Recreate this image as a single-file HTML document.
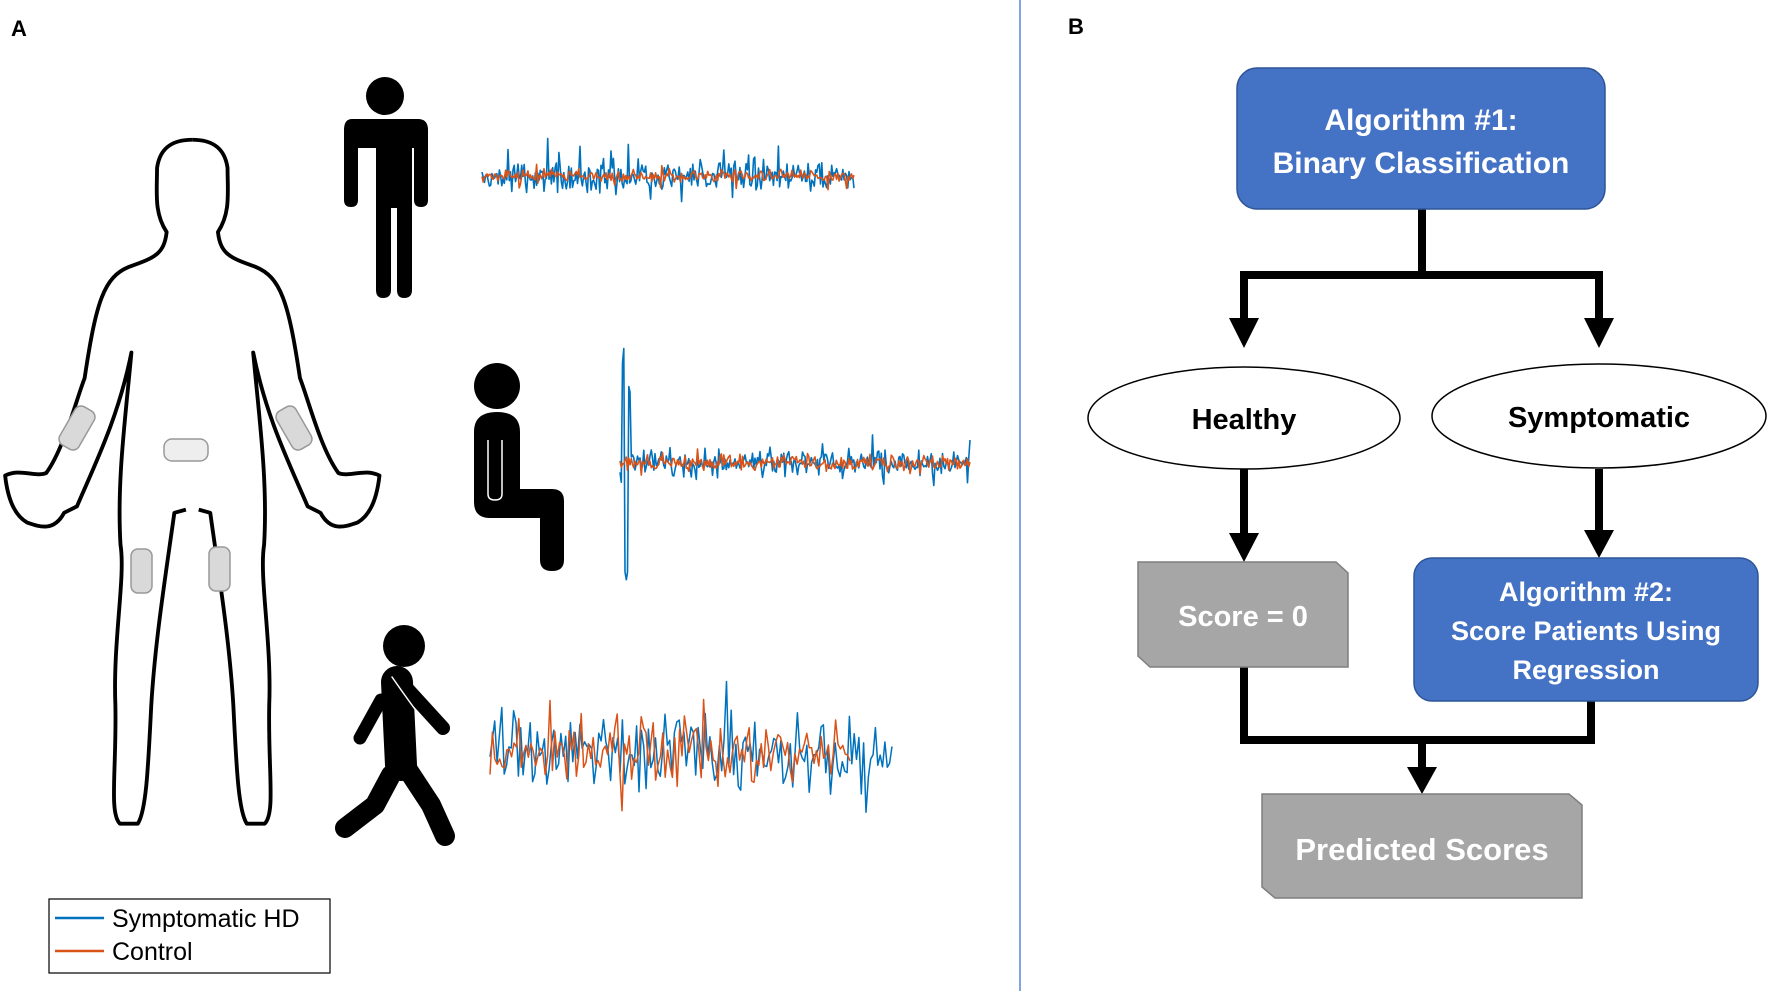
<!DOCTYPE html>
<html><head><meta charset="utf-8"><style>
body{margin:0;background:#fff;}
svg{display:block;}
.t{font-family:"Liberation Sans",sans-serif;font-weight:bold;}
</style></head><body>
<svg id="s" width="1772" height="991" viewBox="0 0 1772 991" xmlns="http://www.w3.org/2000/svg">
<rect width="1772" height="991" fill="#fff"/>
<text x="11" y="36" class="t" font-size="22">A</text>
<text x="1068" y="34" class="t" font-size="22">B</text>
<line x1="1020" y1="0" x2="1020" y2="991" stroke="#5b86d6" stroke-width="1.5"/>

<!-- body outline -->
<g transform="scale(0.641)" fill="none" stroke="#000" stroke-width="6" stroke-linejoin="round">
<path id="half" d="M290,795 L272,800 C258,900 242,1000 236,1100 C231,1200 228,1265 215,1285 L187,1285 C170,1268 182,1200 180,1100 C176,1000 196,900 188,850 C182,750 196,650 205,550 C185,650 150,720 120,790 L100,800 C84,830 62,822 42,815 C16,800 10,760 8,742 C30,730 55,745 72,738 C100,700 120,620 132,590 C150,470 162,432 202,416 C242,402 256,396 260,362 C240,332 245,300 245,262 C250,226 275,218 300,218"/>
<use href="#half" transform="translate(600,0) scale(-1,1)"/>
</g>
<g fill="#d9d9d9" stroke="#999" stroke-width="1.5">
<rect x="-11" y="-22" width="22" height="44" rx="7" transform="translate(77,428) rotate(30)"/>
<rect x="-11" y="-22" width="22" height="44" rx="7" transform="translate(294,428) rotate(-30)"/>
<rect x="164" y="439" width="44" height="22" rx="8" fill="#eee"/>
<rect x="131" y="549" width="21" height="44" rx="7"/>
<rect x="209" y="547" width="21" height="44" rx="7"/>
</g>

<g fill="#000">
<circle cx="385" cy="96" r="19"/>
<path d="M352,119 H418 Q428,119 428,130 V200 Q428,207 421,207 Q414,207 414,200 V148 H412 V290 Q412,298 404,298 Q397,298 397,290 V208 H391 V290 Q391,298 383,298 Q376,298 376,290 V148 H358 V200 Q358,207 351,207 Q344,207 344,200 V130 Q344,119 352,119 Z"/>
</g>
<g>
<circle cx="497" cy="386" r="23" fill="#000"/>
<path d="M474,432 Q474,412 497,412 Q520,412 520,432 V489 H552 Q564,489 564,501 V560 Q564,571 552,571 Q540,571 540,560 V518 H490 Q474,518 474,502 Z" fill="#000"/>
<path d="M488,440 V494 Q488,500 495,500 Q502,500 502,494 V440" fill="none" stroke="#fff" stroke-width="1.5"/>
</g>
<g stroke="#000" stroke-linecap="round" fill="none" transform="translate(3,10)">
<circle cx="401" cy="636" r="21" fill="#000" stroke="none"/>
<line x1="394" y1="672" x2="398" y2="755" stroke-width="32"/>
<line x1="378" y1="690" x2="357" y2="728" stroke-width="13"/>
<line x1="398" y1="672" x2="440" y2="718" stroke-width="14"/>
<polyline points="388,765 372,795 342,818" stroke-width="20" stroke-linejoin="round"/>
<polyline points="405,760 428,795 442,826" stroke-width="20" stroke-linejoin="round"/>
<path d="M389,667 Q405,690 420,710" stroke="#fff" stroke-width="1.5"/>
</g>

<g id="sig"></g>

<rect x="49" y="899" width="281" height="74" fill="#fff" stroke="#000" stroke-width="1.2"/>
<line x1="55" y1="918" x2="104" y2="918" stroke="#0072bd" stroke-width="2.5"/>
<line x1="55" y1="951" x2="104" y2="951" stroke="#d95319" stroke-width="2.5"/>
<text x="112" y="927" font-family="Liberation Sans,sans-serif" font-size="25">Symptomatic HD</text>
<text x="112" y="960" font-family="Liberation Sans,sans-serif" font-size="25">Control</text>

<g stroke="#000" stroke-width="8" fill="none">
<polyline points="1422,209 1422,275"/>
<polyline points="1244,320 1244,275 1599,275 1599,320"/>
<line x1="1244" y1="469" x2="1244" y2="535"/>
<line x1="1599" y1="469" x2="1599" y2="532"/>
<polyline points="1244,667 1244,740 1591,740 1591,701"/>
<line x1="1422" y1="740" x2="1422" y2="770"/>
</g>
<g fill="#000">
<polygon points="1229,318 1259,318 1244,348"/>
<polygon points="1584,318 1614,318 1599,348"/>
<polygon points="1229,533 1259,533 1244,562"/>
<polygon points="1584,530 1614,530 1599,558"/>
<polygon points="1407,767 1437,767 1422,794"/>
</g>
<rect x="1237" y="68" width="368" height="141" rx="20" fill="#4472c4" stroke="#2f5597" stroke-width="1.5"/>
<text x="1421" y="130" class="t" font-size="30" fill="#fff" text-anchor="middle">Algorithm #1:</text>
<text x="1421" y="173" class="t" font-size="30" fill="#fff" text-anchor="middle">Binary Classification</text>
<ellipse cx="1244" cy="418" rx="156" ry="51" fill="#fff" stroke="#000" stroke-width="1.5"/>
<text x="1244" y="429" class="t" font-size="29" text-anchor="middle">Healthy</text>
<ellipse cx="1599" cy="416" rx="167" ry="52" fill="#fff" stroke="#000" stroke-width="1.5"/>
<text x="1599" y="427" class="t" font-size="29" text-anchor="middle">Symptomatic</text>
<polygon points="1138,562 1336,562 1348,573 1348,667 1150,667 1138,656" fill="#a6a6a6" stroke="#7f7f7f" stroke-width="1.5"/>
<text x="1243" y="626" class="t" font-size="29" fill="#fff" text-anchor="middle">Score = 0</text>
<rect x="1414" y="558" width="344" height="143" rx="18" fill="#4472c4" stroke="#2f5597" stroke-width="1.5"/>
<text x="1586" y="601" class="t" font-size="27" fill="#fff" text-anchor="middle">Algorithm #2:</text>
<text x="1586" y="640" class="t" font-size="27" fill="#fff" text-anchor="middle">Score Patients Using</text>
<text x="1586" y="679" class="t" font-size="27" fill="#fff" text-anchor="middle">Regression</text>
<polygon points="1262,794 1569,794 1582,805 1582,898 1275,898 1262,887" fill="#a6a6a6" stroke="#7f7f7f" stroke-width="1.5"/>
<text x="1422" y="860" class="t" font-size="31" fill="#fff" text-anchor="middle">Predicted Scores</text>
</svg>
<script>
(function(){
var seed=7;function r(){seed=(seed*16807)%2147483647;return seed/2147483647;}
function g(){return (r()+r()+r()-1.5)/1.5;}
var out='';
function sig(x0,x1,cy,n,amp,col,w,spike,tail){
 var p=[];for(var i=0;i<=n;i++){var x=x0+(x1-x0)*i/n;var v=g()*amp;
 if(r()<0.12)v*=(tail||2.2); if(spike)v+=spike(i/n);
 p.push(x.toFixed(1)+','+(cy+v).toFixed(1));}
 out+='<polyline points="'+p.join(' ')+'" fill="none" stroke="'+col+'" stroke-width="'+w+'" stroke-linejoin="round"/>';
}
var B='#0072bd',O='#d95319';
sig(482,854,176,300,20,B,1.6,null,2.3);
sig(482,854,176,300,9,O,1.6);
sig(620,970,463,280,18,B,1.6,function(t){if(t<0.005)return 0;if(t<0.013)return -120;if(t<0.022)return 110;if(t<0.03)return -70;return 0;},2);
sig(620,970,463,280,12,O,1.6);
sig(490,892,751,170,55,B,1.5,null,1.9);
sig(490,850,751,150,48,O,1.5,null,1.9);
document.getElementById('sig').innerHTML=out;
})();
</script>
</body></html>
